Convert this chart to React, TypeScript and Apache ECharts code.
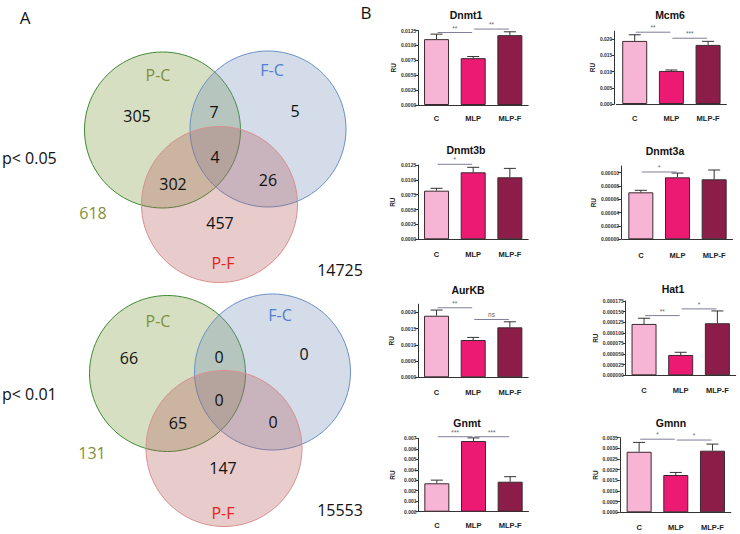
import React, { useEffect, useRef } from 'react';
import * as echarts from 'echarts';

// ---------- data ----------
const groups = ['C', 'MLP', 'MLP-F'];
const barColors = ['#f8b4d4', '#ec1a72', '#8c1c48'];

const geneNames = ['Dnmt1', 'Mcm6', 'Dnmt3b', 'Dnmt3a', 'AurKB', 'Hat1', 'Gnmt', 'Gmnn'];

const dnmt1Mean = [0.01105, 0.00786, 0.01172];
const dnmt1Sem = [0.00084, 0.00027, 0.00056];
const dnmt1Ticks = [0, 0.0025, 0.005, 0.0075, 0.01, 0.0125];
const dnmt1Br = [[0, 1, 0.01216], [1, 2, 0.01274]];
const dnmt1BrLab = ['**', '**'];

const mcm6Mean = [0.01947, 0.0102, 0.01824];
const mcm6Sem = [0.0019, 0.0003, 0.0011];
const mcm6Ticks = [0, 0.005, 0.01, 0.015, 0.02];
const mcm6Br = [[0, 1, 0.02216], [1, 2, 0.0203]];
const mcm6BrLab = ['**', '***'];

const dnmt3bMean = [0.00818, 0.01127, 0.01043];
const dnmt3bSem = [0.0004, 0.00084, 0.0015];
const dnmt3bTicks = [0, 0.0025, 0.005, 0.0075, 0.01, 0.0125];
const dnmt3bBr = [[0, 1, 0.01262]];
const dnmt3bBrLab = ['*'];

const dnmt3aMean = [0.0000705, 0.000093, 0.00009];
const dnmt3aSem = [0.000003, 0.0000064, 0.000014];
const dnmt3aTicks = [0, 0.00002, 0.00004, 0.00006, 0.00008, 0.0001];
const dnmt3aBr = [[0, 1, 0.000101]];
const dnmt3aBrLab = ['*'];

const aurkbMean = [0.001895, 0.001148, 0.001538];
const aurkbSem = [0.000175, 0.00008, 0.00017];
const aurkbTicks = [0, 0.0005, 0.001, 0.0015, 0.002];
const aurkbBr = [[0, 1, 0.00214], [1, 2, 0.00178]];
const aurkbBrLab = ['**', 'ns'];

const hat1Mean = [0.000121, 0.0000479, 0.0001226];
const hat1Sem = [0.0000134, 0.0000063, 0.000029];
const hat1Ticks = [0, 0.000025, 0.00005, 0.000075, 0.0001, 0.000125, 0.00015, 0.000175];
const hat1Br = [[0, 1, 0.0001406], [1, 2, 0.0001564]];
const hat1BrLab = ['**', '*'];

const gnmtMean = [0.00271, 0.00674, 0.00286];
const gnmtSem = [0.0003, 0.0003, 0.00048];
const gnmtTicks = [0, 0.001, 0.002, 0.003, 0.004, 0.005, 0.006, 0.007];
const gnmtBr = [[0, 1, 0.00715], [1, 2, 0.00715]];
const gnmtBrLab = ['***', '***'];

const gmnnMean = [0.00284, 0.00175, 0.00289];
const gmnnSem = [0.00044, 0.00012, 0.00031];
const gmnnTicks = [0, 0.0005, 0.001, 0.0015, 0.002, 0.0025, 0.003, 0.0035];
const gmnnBr = [[0, 1, 0.00343], [1, 2, 0.00339]];
const gmnnBrLab = ['*', '*'];

// Venn
const vennSets = ['P-C', 'F-C', 'P-F'];
const thresholds = ['p< 0.05', 'p< 0.01'];
// order: P-C only, P-C&F-C, F-C only, all three, P-C&P-F, F-C&P-F, P-F only
const venn005Counts = [305, 7, 5, 4, 302, 26, 457];
const venn005Totals = [618, 14725];
const venn001Counts = [66, 0, 0, 0, 65, 0, 147];
const venn001Totals = [131, 15553];

// ---------- layout ----------
const panelData = [
  { mean: dnmt1Mean, sem: dnmt1Sem, ticks: dnmt1Ticks, br: dnmt1Br, lab: dnmt1BrLab, max: 0.0125, dec: 4 },
  { mean: mcm6Mean, sem: mcm6Sem, ticks: mcm6Ticks, br: mcm6Br, lab: mcm6BrLab, max: 0.0225, dec: 3 },
  { mean: dnmt3bMean, sem: dnmt3bSem, ticks: dnmt3bTicks, br: dnmt3bBr, lab: dnmt3bBrLab, max: 0.0125, dec: 4 },
  { mean: dnmt3aMean, sem: dnmt3aSem, ticks: dnmt3aTicks, br: dnmt3aBr, lab: dnmt3aBrLab, max: 0.00011, dec: 5 },
  { mean: aurkbMean, sem: aurkbSem, ticks: aurkbTicks, br: aurkbBr, lab: aurkbBrLab, max: 0.00225, dec: 4 },
  { mean: hat1Mean, sem: hat1Sem, ticks: hat1Ticks, br: hat1Br, lab: hat1BrLab, max: 0.000175, dec: 6 },
  { mean: gnmtMean, sem: gnmtSem, ticks: gnmtTicks, br: gnmtBr, lab: gnmtBrLab, max: 0.007, dec: 3 },
  { mean: gmnnMean, sem: gmnnSem, ticks: gmnnTicks, br: gmnnBr, lab: gmnnBrLab, max: 0.0035, dec: 4 },
];

const panelLayout = [
  { left: 418.2, top: 30.5, h: 74.5, off: 0, gap: 21, tx: 466, ty: 15, lm: 9 },
  { left: 616.4, top: 31.1, h: 72.9, off: 2, gap: 15, tx: 670, ty: 15, lm: 10 },
  { left: 418.2, top: 165, h: 74.3, off: 0, gap: 22, tx: 466, ty: 150, lm: 11 },
  { left: 622.5, top: 166, h: 73.3, off: 1.5, gap: 21, tx: 665, ty: 151, lm: 12 },
  { left: 418.2, top: 304.2, h: 73.1, off: 0, gap: 23, tx: 468, ty: 290, lm: 11 },
  { left: 625.7, top: 301, h: 74.3, off: 0, gap: 24, tx: 673, ty: 289, lm: 11 },
  { left: 418.5, top: 438.3, h: 73.4, off: 0, gap: 23, tx: 467, ty: 423, lm: 10 },
  { left: 620.8, top: 437.7, h: 74.6, off: 1, gap: 20, tx: 671, ty: 423, lm: 11 },
];

const vennLayouts = [
  {
    circles: [[162.5, 130, 78], [268, 129, 78], [219.5, 204.5, 78]],
    setLabels: [[158, 75], [272, 70], [223, 263]],
    regions: [[137, 116], [214, 112], [295, 111], [215, 157], [173, 184], [268, 180], [220, 223]],
    pcTotal: [93, 213], allTotal: [340, 270], thr: [2, 158],
  },
  {
    circles: [[167.5, 373.5, 78], [272.5, 372, 78], [224, 448.5, 78]],
    setLabels: [[158, 321], [280, 315], [223, 512.5]],
    regions: [[129, 357.5], [219, 356.5], [304, 353.5], [219, 399.5], [178, 422.5], [273, 422], [223, 467.5]],
    pcTotal: [92, 453], allTotal: [340, 510], thr: [2, 393.5],
  },
];

const ARIAL = "'Liberation Sans', Arial, sans-serif";
const CALIBRI = "'Open Sans', sans-serif";
const circleFill = ['rgba(118,148,52,0.3)', 'rgba(108,138,178,0.3)', 'rgba(178,85,85,0.3)'];
const circleStroke = ['#3f8a33', '#6a90c8', '#d8908f'];
const setLabelColor = ['#7f8f3c', '#4f80cc', '#e32222'];

function buildOption() {
  const grid: any[] = [];
  const xAxis: any[] = [];
  const yAxis: any[] = [];
  const series: any[] = [];
  const graphics: any[] = [];

  panelData.forEach((p, i) => {
    const l = panelLayout[i];
    grid.push({ left: l.left, top: l.top, width: 110, height: l.h, containLabel: false });
    xAxis.push({
      type: 'category',
      gridIndex: i,
      data: groups,
      axisLine: { lineStyle: { color: '#333', width: 1 } },
      axisTick: { alignWithLabel: true, length: 3, lineStyle: { color: '#333' } },
      axisLabel: { fontSize: 7.5, fontWeight: 'bold', color: '#222', margin: l.lm, fontFamily: ARIAL },
    });
    yAxis.push({
      type: 'value',
      gridIndex: i,
      min: 0,
      max: p.max,
      offset: l.off,
      name: 'RU',
      nameLocation: 'middle',
      nameGap: l.gap,
      nameTextStyle: { fontSize: 6.5, fontWeight: 'bold', color: '#222', fontFamily: ARIAL },
      axisLine: { show: true, lineStyle: { color: '#333', width: 1 } },
      axisTick: { show: true, length: 3, customValues: p.ticks, lineStyle: { color: '#333' } },
      axisLabel: {
        customValues: p.ticks,
        formatter: (v: number) => v.toFixed(p.dec),
        fontSize: 5,
        color: '#333',
        margin: 2,
        fontWeight: 'bold',
        fontFamily: ARIAL,
      },
      splitLine: { show: false },
    });
    series.push({
      type: 'bar',
      xAxisIndex: i,
      yAxisIndex: i,
      barWidth: 25,
      data: p.mean.map((v, j) => ({ value: v, itemStyle: { color: barColors[j] } })),
      itemStyle: { borderColor: '#3a2a30', borderWidth: 1 },
    });
    series.push({
      type: 'custom',
      xAxisIndex: i,
      yAxisIndex: i,
      z: 3,
      data: p.mean.map((v, j) => [j, v, p.sem[j]]),
      encode: { x: 0, y: 1 },
      renderItem: (params: any, api: any) => {
        const x = api.value(0);
        const m = api.value(1);
        const s = api.value(2);
        const b = api.coord([x, m]);
        const t = api.coord([x, m + s]);
        return {
          type: 'group',
          children: [
            { type: 'line', shape: { x1: b[0], y1: b[1], x2: t[0], y2: t[1] }, style: { stroke: '#333', lineWidth: 1 } },
            { type: 'line', shape: { x1: t[0] - 6, y1: t[1], x2: t[0] + 6, y2: t[1] }, style: { stroke: '#333', lineWidth: 1 } },
          ],
        };
      },
    });
    series.push({
      type: 'custom',
      xAxisIndex: i,
      yAxisIndex: i,
      z: 4,
      clip: false,
      data: p.br,
      encode: { x: [0, 1], y: 2 },
      renderItem: (params: any, api: any) => {
        const a = api.coord([api.value(0), api.value(2)]);
        const b = api.coord([api.value(1), api.value(2)]);
        return {
          type: 'group',
          children: [
            { type: 'line', shape: { x1: a[0] + 1, y1: a[1], x2: b[0] - 1, y2: b[1] }, style: { stroke: '#7e7e9c', lineWidth: 1 } },
            {
              type: 'text',
              x: (a[0] + b[0]) / 2,
              y: a[1] - 1,
              style: { text: p.lab[params.dataIndex], align: 'center', verticalAlign: 'bottom', fontSize: 6.5, fill: '#666', fontFamily: ARIAL },
            },
          ],
        };
      },
    });
    graphics.push({
      type: 'text',
      x: l.tx,
      y: l.ty,
      style: { text: geneNames[i], align: 'center', verticalAlign: 'middle', font: `bold 10.5px ${ARIAL}`, fill: '#111' },
    });
  });

  // Venn diagrams
  const vennCounts = [venn005Counts, venn001Counts];
  const vennTotals = [venn005Totals, venn001Totals];
  vennLayouts.forEach((vl, k) => {
    vl.circles.forEach((c, j) => {
      graphics.push({
        type: 'circle',
        shape: { cx: c[0], cy: c[1], r: c[2] },
        style: { fill: circleFill[j], stroke: circleStroke[j], lineWidth: 1 },
        z: 1 + j,
      });
    });
    vl.setLabels.forEach((pos, j) => {
      graphics.push({
        type: 'text', x: pos[0], y: pos[1], z: 10,
        style: { text: vennSets[j], align: 'center', verticalAlign: 'middle', font: `16px ${CALIBRI}`, fill: setLabelColor[j] },
      });
    });
    vl.regions.forEach((pos, j) => {
      graphics.push({
        type: 'text', x: pos[0], y: pos[1], z: 10,
        style: { text: String(vennCounts[k][j]), align: 'center', verticalAlign: 'middle', font: `16px ${CALIBRI}`, fill: '#111' },
      });
    });
    graphics.push({
      type: 'text', x: vl.pcTotal[0], y: vl.pcTotal[1], z: 10,
      style: { text: String(vennTotals[k][0]), align: 'center', verticalAlign: 'middle', font: `16px ${CALIBRI}`, fill: '#7f8f3c' },
    });
    graphics.push({
      type: 'text', x: vl.allTotal[0], y: vl.allTotal[1], z: 10,
      style: { text: String(vennTotals[k][1]), align: 'center', verticalAlign: 'middle', font: `16px ${CALIBRI}`, fill: '#111' },
    });
    graphics.push({
      type: 'text', x: vl.thr[0], y: vl.thr[1], z: 10,
      style: { text: thresholds[k], align: 'left', verticalAlign: 'middle', font: `16px ${CALIBRI}`, fill: '#111' },
    });
  });
  graphics.push({ type: 'text', x: 25, y: 17, style: { text: 'A', align: 'center', verticalAlign: 'middle', font: `17px ${CALIBRI}`, fill: '#111' } });
  graphics.push({ type: 'text', x: 366, y: 12, style: { text: 'B', align: 'center', verticalAlign: 'middle', font: `17px ${CALIBRI}`, fill: '#111' } });

  return {
    animation: false,
    backgroundColor: '#ffffff',
    grid,
    xAxis,
    yAxis,
    series,
    graphic: { elements: graphics },
  };
}

export default function App() {
  const ref = useRef<HTMLDivElement>(null);
  useEffect(() => {
    document.body.style.margin = '0';
    if (!ref.current) return;
    const chart = echarts.init(ref.current, undefined, { renderer: 'svg' });
    chart.setOption(buildOption() as any);
    return () => chart.dispose();
  }, []);
  return <div ref={ref} style={{ width: 740, height: 534 }} />;
}
